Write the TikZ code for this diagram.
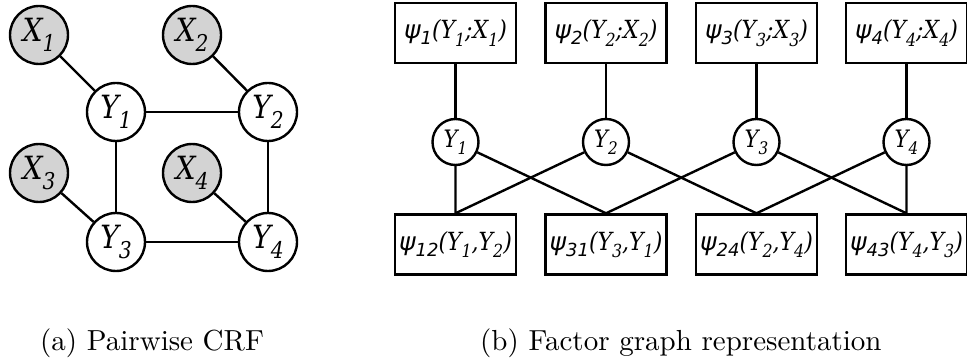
\documentclass[tikz,border=0pt]{standalone}
\usepackage{fontspec}
\usepackage{xcolor}
\usepackage{tikz}
\newfontfamily\varfont{DejaVu Serif}[FakeStretch=0.88]
\newfontfamily\facfont{DejaVu Sans}
\newfontfamily\capfont{lmroman10-regular.otf}
\definecolor{obsgray}{RGB}{211,211,211}
\newcommand{\vsub}[2]{#1\raisebox{-.3em}{\scalebox{.72}{#2}}}
\newcommand{\psif}[1]{{\facfont\itshape ψ\raisebox{-.25em}{\scalebox{.72}{#1}}}}

\begin{document}
\begin{tikzpicture}[x=1pt, y=-1pt,
    var/.style={circle, draw, line width=2.4pt, fill=white, minimum size=58pt, inner sep=0pt, font=\varfont\itshape\fontsize{32}{32}\selectfont},
    obs/.style={var, fill=obsgray},
    fvar/.style={circle, draw, line width=2.4pt, fill=white, minimum size=46pt, inner sep=0pt, font=\varfont\itshape\fontsize{24}{24}\selectfont},
    factor/.style={rectangle, draw, line width=2.4pt, fill=white, minimum width=121pt, minimum height=60pt, inner sep=0pt, font=\varfont\itshape\fontsize{25}{25}\selectfont},
    edge/.style={line width=2.4pt},
    caption/.style={anchor=base west, inner sep=0pt, font=\capfont\fontsize{29}{29}\selectfont}
  ]
    \useasboundingbox (0,0) rectangle (967,358);
    % (a) pairwise CRF
    \node[obs] (x1) at (39,35) {\vsub{X}{1}};
    \node[obs] (x2) at (192,35) {\vsub{X}{2}};
    \node[obs] (x3) at (39,173) {\vsub{X}{3}};
    \node[obs] (x4) at (192,173) {\vsub{X}{4}};
    \node[var] (y1) at (116,112) {\vsub{Y}{1}};
    \node[var] (y2) at (268,112) {\vsub{Y}{2}};
    \node[var] (y3) at (116,242) {\vsub{Y}{3}};
    \node[var] (y4) at (268,242) {\vsub{Y}{4}};
    \draw[edge] (x1)--(y1) (x2)--(y2) (x3)--(y3) (x4)--(y4);
    \draw[edge] (y1)--(y2)--(y4)--(y3)--(y1);
    % (b) factor graph
    \node[factor] (f1) at (455.5,33) {\psif{1}(\vsub{Y}{1};\vsub{X}{1})};
    \node[factor] (f2) at (606,33) {\psif{2}(\vsub{Y}{2};\vsub{X}{2})};
    \node[factor] (f3) at (756.5,33) {\psif{3}(\vsub{Y}{3};\vsub{X}{3})};
    \node[factor] (f4) at (906.5,33) {\psif{4}(\vsub{Y}{4};\vsub{X}{4})};
    \node[fvar] (v1) at (455.5,142) {\vsub{Y}{1}};
    \node[fvar] (v2) at (606,142) {\vsub{Y}{2}};
    \node[fvar] (v3) at (756.5,142) {\vsub{Y}{3}};
    \node[fvar] (v4) at (906.5,142) {\vsub{Y}{4}};
    \node[factor] (f12) at (455.5,244.5) {\psif{12}(\vsub{Y}{1},\vsub{Y}{2})};
    \node[factor] (f31) at (606,244.5) {\psif{31}(\vsub{Y}{3},\vsub{Y}{1})};
    \node[factor] (f24) at (756.5,244.5) {\psif{24}(\vsub{Y}{2},\vsub{Y}{4})};
    \node[factor] (f43) at (906.5,244.5) {\psif{43}(\vsub{Y}{4},\vsub{Y}{3})};
    \draw[edge] (f1)--(v1) (f2)--(v2) (f3)--(v3) (f4)--(v4);
    \draw[edge] (v1)--(f12.north) (v2)--(f12.north);
    \draw[edge] (v3)--(f31.north) (v1)--(f31.north);
    \draw[edge] (v2)--(f24.north) (v4)--(f24.north);
    \draw[edge] (v4)--(f43.north) (v3)--(f43.north);
    % captions
    \node[caption] (capa) at (40,350) {(a) Pairwise CRF};
    \node[caption] (capb) at (480,350) {(b) Factor graph representation};
  \end{tikzpicture}
\end{document}
